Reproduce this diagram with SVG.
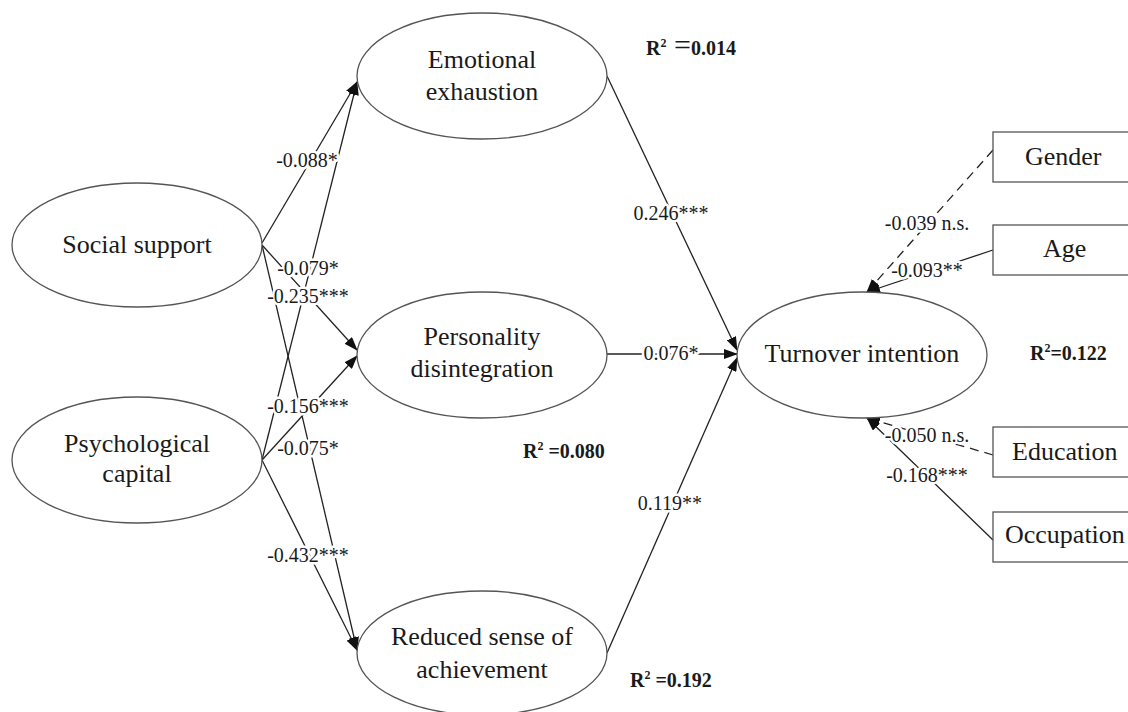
<svg xmlns="http://www.w3.org/2000/svg" width="1128" height="712" viewBox="0 0 1128 712">
<defs>
<marker id="arr" markerWidth="14" markerHeight="10" refX="13" refY="5" orient="auto" markerUnits="userSpaceOnUse">
<path d="M0,0 L14,5 L0,10 z" fill="#111"/>
</marker>
<style>
.node ellipse{fill:#fff;stroke:#555;stroke-width:1.3}
.node rect{fill:#fff;stroke:#555;stroke-width:1.3}
.nt{font-family:"Liberation Serif","Times New Roman",serif;font-size:26px;fill:#1a1a1a;text-anchor:middle}
.edges line{stroke:#222;stroke-width:1.3;fill:none}
.edges line.a{marker-end:url(#arr)}
.edges line.d{stroke-dasharray:9 6}
.el{font-family:"Liberation Serif","Times New Roman",serif;font-size:20px;fill:#1a1a1a;text-anchor:middle;stroke:#fff;stroke-width:5;paint-order:stroke;stroke-linejoin:round}
.r2{font-family:"Liberation Serif","Times New Roman",serif;font-size:20px;font-weight:bold;fill:#1a1a1a}
</style>
</defs>
<rect width="1128" height="712" fill="#fff"/>

<g class="edges" id="connectors">
<line class="a" x1="262" y1="243" x2="357" y2="82"/>
<line class="a" x1="262" y1="460" x2="357" y2="82"/>
<line class="a" x1="262" y1="245" x2="357" y2="350"/>
<line class="a" x1="262" y1="460" x2="357" y2="356"/>
<line class="a" x1="262" y1="245" x2="357" y2="650"/>
<line class="a" x1="262" y1="460" x2="357" y2="650"/>
<line class="a" x1="607" y1="76" x2="737" y2="350"/>
<line class="a" x1="607" y1="354" x2="737" y2="354"/>
<line class="a" x1="607" y1="653" x2="737" y2="358"/>
<line class="a d" x1="993" y1="150" x2="867" y2="292"/>
<line class="a" x1="993" y1="250" x2="867" y2="292"/>
<line class="a d" x1="993" y1="455" x2="867" y2="418"/>
<line class="a" x1="993" y1="540" x2="867" y2="418"/>
</g>

<g id="edge-labels">
<text class="el" x="307" y="167">-0.088*</text>
<text class="el" x="308" y="275">-0.079*</text>
<text class="el" x="308" y="303">-0.235***</text>
<text class="el" x="308" y="413">-0.156***</text>
<text class="el" x="308" y="455">-0.075*</text>
<text class="el" x="308" y="562">-0.432***</text>
<text class="el" x="671" y="220">0.246***</text>
<text class="el" x="671" y="360">0.076*</text>
<text class="el" x="670" y="510">0.119**</text>
<text class="el" x="927" y="230">-0.039 n.s.</text>
<text class="el" x="927" y="277">-0.093**</text>
<text class="el" x="927" y="442">-0.050 n.s.</text>
<text class="el" x="927" y="482">-0.168***</text>
</g>

<g class="node" id="social-support">
<ellipse cx="137" cy="245" rx="125" ry="62"/>
<text class="nt" x="137" y="253">Social support</text>
</g>
<g class="node" id="psychological-capital">
<ellipse cx="137" cy="460" rx="125" ry="63"/>
<text class="nt" x="137" y="452">Psychological</text>
<text class="nt" x="137" y="482">capital</text>
</g>
<g class="node" id="emotional-exhaustion">
<ellipse cx="482" cy="76" rx="125" ry="63"/>
<text class="nt" x="482" y="68">Emotional</text>
<text class="nt" x="482" y="100">exhaustion</text>
</g>
<g class="node" id="personality-disintegration">
<ellipse cx="482" cy="355" rx="125" ry="63"/>
<text class="nt" x="482" y="345">Personality</text>
<text class="nt" x="482" y="377">disintegration</text>
</g>
<g class="node" id="reduced-sense">
<ellipse cx="482" cy="653" rx="125" ry="62"/>
<text class="nt" x="482" y="645">Reduced sense of</text>
<text class="nt" x="482" y="678">achievement</text>
</g>
<g class="node" id="turnover-intention">
<ellipse cx="862" cy="355" rx="125" ry="63"/>
<text class="nt" x="862" y="362">Turnover intention</text>
</g>
<g class="node" id="gender">
<rect x="993" y="132" width="160" height="50"/>
<text class="nt" x="1025" y="165" style="text-anchor:start">Gender</text>
</g>
<g class="node" id="age">
<rect x="993" y="225" width="160" height="50"/>
<text class="nt" x="1043" y="257" style="text-anchor:start">Age</text>
</g>
<g class="node" id="education">
<rect x="993" y="427" width="160" height="50"/>
<text class="nt" x="1012" y="460" style="text-anchor:start">Education</text>
</g>
<g class="node" id="occupation">
<rect x="993" y="512" width="160" height="50"/>
<text class="nt" x="1005" y="543" style="text-anchor:start">Occupation</text>
</g>

<g id="r2-labels">
<text class="r2" x="646" y="55">R<tspan font-size="12" dy="-8">2</tspan><tspan dy="8" font-size="30" font-weight="normal"> =</tspan>0.014</text>
<text class="r2" x="523" y="458">R<tspan font-size="12" dy="-8">2</tspan><tspan dy="8"> =0.080</tspan></text>
<text class="r2" x="630" y="687">R<tspan font-size="12" dy="-8">2</tspan><tspan dy="8">  =0.192</tspan></text>
<text class="r2" x="1030" y="360">R<tspan font-size="12" dy="-8">2</tspan><tspan dy="8">=0.122</tspan></text>
</g>
</svg>
